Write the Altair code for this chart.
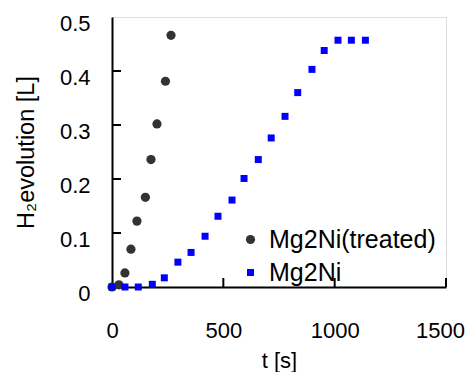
import altair as alt
import pandas as pd

# Data
treated_t = [0, 31, 58, 85, 112, 150, 175, 202, 240, 265]
treated_v = [0.0, 0.004, 0.026, 0.070, 0.122, 0.166, 0.236, 0.302, 0.381, 0.466]

plain_t = [0, 58, 118, 181, 235, 296, 355, 418, 476, 539, 593, 657, 715, 777, 834, 898, 953, 1015, 1075, 1138]
plain_v = [0.0, 0.0, 0.0, 0.005, 0.017, 0.046, 0.064, 0.094, 0.131, 0.161, 0.201, 0.236, 0.276,
           0.316, 0.360, 0.403, 0.438, 0.457, 0.457, 0.457]

series_names = ["Mg2Ni(treated)", "Mg2Ni"]
series_colors = ["#333333", "#0000ff"]
series_shapes = ["circle", "square"]
series_sizes = [85, 49]

x_ticks = [0, 500, 1000, 1500]
y_ticks = [0, 0.1, 0.2, 0.3, 0.4, 0.5]
x_inner_ticks = [500, 1000, 1500]
y_inner_ticks = [0.1, 0.2, 0.3, 0.4]

df = pd.concat([
    pd.DataFrame({"t": treated_t, "v": treated_v, "series": series_names[0], "order": 0}),
    pd.DataFrame({"t": plain_t, "v": plain_v, "series": series_names[1], "order": 1}),
])

FONT = "Liberation Sans"

xscale = alt.Scale(domain=[0, 1500], nice=False, zero=False)
yscale = alt.Scale(domain=[0, 0.5], nice=False, zero=False)

points = alt.Chart(df).mark_point(filled=True, opacity=1, strokeWidth=0).encode(
    x=alt.X("t:Q", scale=xscale, title="t [s]",
            axis=alt.Axis(values=x_ticks, ticks=False, tickSize=0, grid=False, format="d",
                          labelPadding=33, labelFontSize=22, labelFont=FONT, labelColor="black",
                          labelOffset=alt.condition("datum.value == 1500", alt.value(-6), alt.value(0)),
                          domainColor="black", domainWidth=2,
                          titleFontSize=22, titleFont=FONT, titleFontWeight="normal", titleColor="black",
                          titleY=80, titleBaseline="alphabetic", labelFlush=False)),
    y=alt.Y("v:Q", scale=yscale, title="H₂evolution [L]",
            axis=alt.Axis(values=y_ticks, ticks=False, tickSize=0, grid=False,
                          labelExpr="datum.value == 0 ? '0' : format(datum.value, '.1f')",
                          labelPadding=22, labelFontSize=22, labelFont=FONT, labelColor="black",
                          labelOffset=6, labelFlush=False,
                          domainColor="black", domainWidth=2,
                          titleFontSize=23.5, titleFont=FONT, titleFontWeight="normal", titleColor="black",
                          titleX=-79, titleY=135, titleBaseline="alphabetic", titleAlign="center")),
    color=alt.Color("series:N", scale=alt.Scale(domain=series_names, range=series_colors), title=None,
                    legend=alt.Legend(orient="none", legendX=126, legendY=210, title=None,
                                      labelFontSize=25, labelFont=FONT, labelColor="black", labelLimit=400,
                                      labelOffset=6, rowPadding=7, padding=0, symbolStrokeWidth=0)),
    shape=alt.Shape("series:N", scale=alt.Scale(domain=series_names, range=series_shapes), title=None),
    size=alt.Size("series:N", scale=alt.Scale(domain=series_names, range=series_sizes), title=None),
    order=alt.Order("order:Q"),
)

ytick_df = pd.DataFrame({"v": y_inner_ticks})
xtick_df = pd.DataFrame({"t": x_inner_ticks})

yticks = alt.Chart(ytick_df).mark_rule(color="black", strokeWidth=2).encode(
    y=alt.Y("v:Q", scale=yscale), x=alt.value(0), x2=alt.value(9))
xticks = alt.Chart(xtick_df).mark_rule(color="black", strokeWidth=2).encode(
    x=alt.X("t:Q", scale=xscale), y=alt.value(270), y2=alt.value(261))

chart = alt.layer(points, yticks, xticks).properties(
    width=334, height=270,
    autosize=alt.AutoSizeParams(type="none"),
    padding={"left": 104, "top": 9, "right": 21, "bottom": 85},
).configure_view(stroke="black", strokeWidth=1).configure(background="white")

chart.save("out.html", embed_options={"renderer": "svg", "actions": False})
